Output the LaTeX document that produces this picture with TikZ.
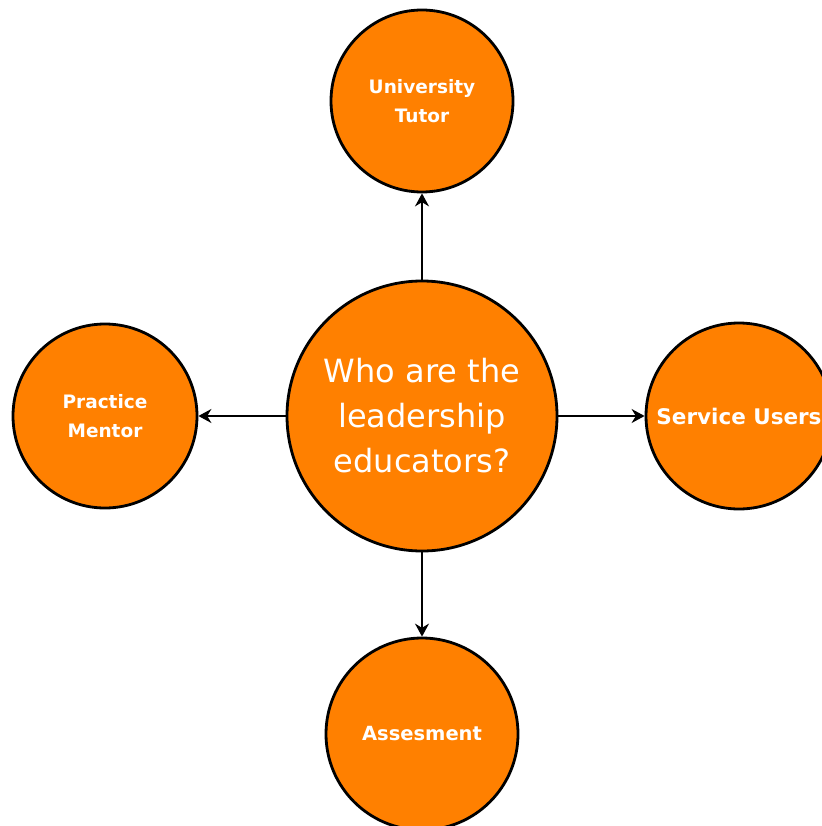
\documentclass[tikz,border=0pt]{standalone}
\usepackage{fontspec}
\setmainfont{DejaVu Sans}
\usetikzlibrary{arrows.meta}
\definecolor{educorange}{RGB}{255,128,0}

\begin{document}
\begin{tikzpicture}[x=1pt, y=-1pt,
    bubble/.style={circle, draw=black, line width=2.8pt, fill=educorange,
        text=white, align=center, inner sep=0pt},
    small/.style={bubble, minimum size=182pt,
        font=\fontsize{18.5}{29}\selectfont\bfseries},
    link/.style={-{Stealth[length=13pt,width=14pt]}, line width=1.8pt}]
    \useasboundingbox (0, 0) rectangle (821, 826);

    % centre question
    \node[bubble, minimum size=270pt, font=\fontsize{32}{45}\selectfont]
        (question) at (422, 416) {Who are the\\leadership\\educators?};

    % the four educators
    \node[small] (tutor) at (422, 101) {University\\Tutor};
    \node[small, minimum size=184pt] (mentor) at (105, 416) {Practice\\Mentor};
    \node[small, minimum size=186pt, font=\fontsize{21.5}{29}\selectfont\bfseries]
        (users) at (739, 416) {Service Users};
    \node[small, minimum size=192pt, font=\fontsize{19.5}{29}\selectfont\bfseries]
        (assess) at (422, 734) {Assesment};

    \draw[link] (question) -- (tutor);
    \draw[link] (question) -- (mentor);
    \draw[link] (question) -- (users);
    \draw[link] (question) -- (assess);
\end{tikzpicture}
\end{document}
